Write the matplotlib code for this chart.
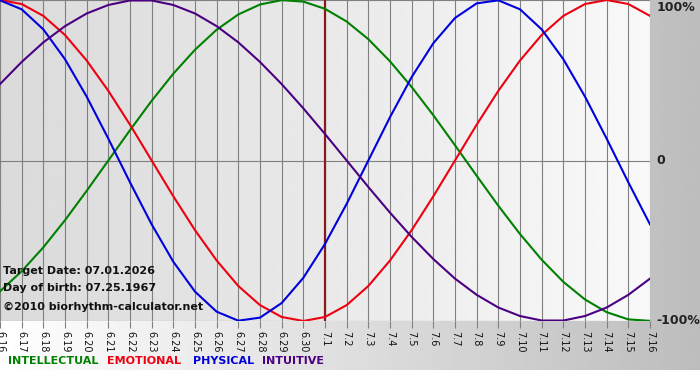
import numpy as np
import matplotlib
matplotlib.use('Agg')
import matplotlib.pyplot as plt

# day labels 6.16 .. 7.16
days = ['6.16', '6.17', '6.18', '6.19', '6.20', '6.21', '6.22', '6.23', '6.24', '6.25',
        '6.26', '6.27', '6.28', '6.29', '6.30', '7.1', '7.2', '7.3', '7.4', '7.5',
        '7.6', '7.7', '7.8', '7.9', '7.10', '7.11', '7.12', '7.13', '7.14', '7.15', '7.16']

# one value per day
intellectual = [-0.815, -0.690, -0.541, -0.372, -0.189, 0.0, 0.189, 0.372, 0.541, 0.690,
                0.815, 0.910, 0.972, 0.999, 0.990, 0.945, 0.866, 0.756, 0.618, 0.458,
                0.282, 0.095, -0.095, -0.282, -0.458, -0.618, -0.756, -0.866, -0.945, -0.990, -0.999]
emotional = [1.0, 0.975, 0.901, 0.782, 0.623, 0.434, 0.223, 0.0, -0.223, -0.434,
             -0.623, -0.782, -0.901, -0.975, -1.0, -0.975, -0.901, -0.782, -0.623, -0.434,
             -0.223, 0.0, 0.223, 0.434, 0.623, 0.782, 0.901, 0.975, 1.0, 0.975, 0.901]
physical = [0.998, 0.942, 0.817, 0.631, 0.398, 0.136, -0.136, -0.398, -0.631, -0.817,
            -0.942, -0.998, -0.979, -0.888, -0.731, -0.520, -0.270, 0.0, 0.270, 0.520,
            0.731, 0.888, 0.979, 0.998, 0.942, 0.817, 0.631, 0.398, 0.136, -0.136, -0.398]
intuitive = [0.476, 0.614, 0.736, 0.837, 0.916, 0.969, 0.997, 0.997, 0.969, 0.916,
             0.837, 0.736, 0.614, 0.476, 0.325, 0.165, 0.0, -0.165, -0.325, -0.476,
             -0.614, -0.736, -0.837, -0.916, -0.969, -0.997, -0.997, -0.969, -0.916, -0.837, -0.736]

target_day = '7.1'
series = [('INTELLECTUAL', intellectual, '#008000'),
          ('EMOTIONAL', emotional, '#ee0010'),
          ('PHYSICAL', physical, '#0000dd'),
          ('INTUITIVE', intuitive, '#4b0082')]

W, H = 700, 380
fig = plt.figure(figsize=(7, 3.8), dpi=100)

# page background: white -> gray from left to right, white strip at the bottom
bg = fig.add_axes([0, 0, 1, 1], zorder=-10)
grad = np.linspace(1.0, 0.74, 256).reshape(1, -1)
bg.imshow(grad, cmap='gray', vmin=0, vmax=1, aspect='auto',
          extent=[0, 1, 10 / H, 1])
bg.set_xlim(0, 1)
bg.set_ylim(0, 1)
bg.axis('off')

ax = fig.add_axes([0, 1 - 321 / H, 650 / W, 321 / H])
ax.patch.set_alpha(0)
x = np.arange(len(days))
n = len(days) - 1

# plot area gradient
pgrad = np.linspace(0.855, 0.975, 256).reshape(1, -1)
ax.imshow(pgrad, cmap='gray', vmin=0, vmax=1, aspect='auto',
          extent=[0, n, -1, 1], zorder=0)

for xi in x:
    ax.axvline(xi, color='#808080', lw=0.8, zorder=1)
for yv in [-1, 0, 1]:
    ax.axhline(yv, color='#808080', lw=0.8, zorder=1)

ax.axvline(days.index(target_day), color='#8b1a1a', lw=1.6, zorder=2)

for name, vals, col in series:
    ax.plot(x, vals, color=col, lw=1.5, zorder=3)

ax.set_xlim(0, n)
ax.set_ylim(-1, 1)
ax.set_xticks(x)
ax.set_xticklabels(days, rotation=-90, fontsize=7, color='#111111')
ax.tick_params(axis='x', direction='out', length=5, color='#808080', pad=2)
ax.set_yticks([])
for s in ax.spines.values():
    s.set_visible(False)

# right side labels
for yv, lab in [(0.955, '100%'), (0.0, '0'), (-1.0, '-100%')]:
    ax.text(1.01, yv, lab, transform=ax.get_yaxis_transform(),
            ha='left', va='center', fontsize=9, fontweight='bold', color='#222222')

# info text
fig.text(3 / W, 1 - 271 / H, 'Target Date: 07.01.2026', fontsize=8, fontweight='bold',
         va='center', color='#111111')
fig.text(3 / W, 1 - 288 / H, 'Day of birth: 07.25.1967', fontsize=8, fontweight='bold',
         va='center', color='#111111')
fig.text(3 / W, 1 - 307 / H, '\u00a92010 biorhythm-calculator.net', fontsize=8, fontweight='bold',
         va='center', color='#111111')

# legend
for (name, vals, col), xp in zip(series, [8, 107, 193, 262]):
    fig.text(xp / W, 1 - 361 / H, name, fontsize=8, fontweight='bold', color=col, va='center')

fig.savefig('out.png', dpi=100)
